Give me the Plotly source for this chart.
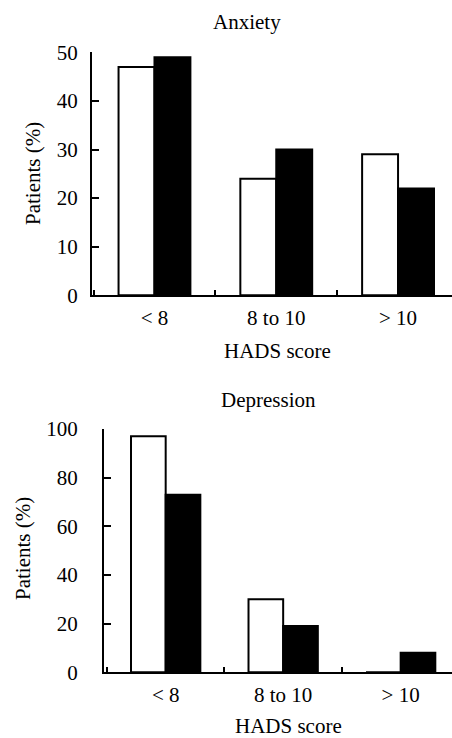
import plotly.graph_objects as go

categories = ["< 8", "8 to 10", "> 10"]
anxiety_white = [47, 24, 29]
anxiety_black = [49, 30, 22]
depression_white = [97, 30, 0]
depression_black = [73, 19, 8]
anxiety_ticks = [0, 10, 20, 30, 40, 50]
depression_ticks = [0, 20, 40, 60, 80, 100]

W, H = 452, 738
FONT = "Liberation Serif"

fig = go.Figure()
line = dict(color="black", width=2)
fig.add_bar(x=categories, y=anxiety_white, marker=dict(color="white", line=line),
            xaxis="x", yaxis="y", showlegend=False)
fig.add_bar(x=categories, y=anxiety_black, marker=dict(color="black", line=line),
            xaxis="x", yaxis="y", showlegend=False)
fig.add_bar(x=categories, y=depression_white, marker=dict(color="white", line=line),
            xaxis="x2", yaxis="y2", showlegend=False)
fig.add_bar(x=categories, y=depression_black, marker=dict(color="black", line=line),
            xaxis="x2", yaxis="y2", showlegend=False)

def px_x(p):
    return p / W

def px_y(p):
    return (H - p) / H

xcommon = dict(type="category", showline=True, linecolor="black", linewidth=2,
               ticks="inside", tickson="boundaries", ticklen=5, tickwidth=2, tickcolor="black",
               showgrid=False, zeroline=False, automargin=False, ticklabelstandoff=2,
               tickfont=dict(family=FONT, size=21, color="black"))
ycommon = dict(showline=True, linecolor="black", linewidth=2, ticks="inside", ticklen=7,
               tickwidth=2, tickcolor="black", showgrid=False, zeroline=False, automargin=False,
               tickfont=dict(family=FONT, size=21, color="black"))

fig.update_layout(
    template="none",
    width=W, height=H, autosize=False,
    margin=dict(l=0, r=0, t=0, b=0),
    paper_bgcolor="white", plot_bgcolor="white",
    barmode="group", bargap=0.41, bargroupgap=0,
    xaxis=dict(xcommon, domain=[px_x(92), 1], range=[-0.513, 2.443], anchor="y"),
    yaxis=dict(ycommon, domain=[px_y(295.3), px_y(52.3)], range=[0, 50],
               tickvals=anxiety_ticks, anchor="x", ticklabelstandoff=8),
    xaxis2=dict(xcommon, domain=[px_x(104), 1], range=[-0.525, 2.437], anchor="y2"),
    yaxis2=dict(ycommon, domain=[px_y(672.3), px_y(429)], range=[0, 100],
                tickvals=depression_ticks, anchor="x2", ticklabelstandoff=20),
)

ann_font = dict(family=FONT, size=21, color="black")
annots = [
    ("Anxiety", 247, 22, 0),
    ("HADS score", 277, 351, 0),
    ("Patients (%)", 33, 174, -90),
    ("Depression", 268, 400, 0),
    ("HADS score", 288, 726, 0),
    ("Patients (%)", 23, 549, -90),
]
for text, x, y, ang in annots:
    fig.add_annotation(text=text, x=px_x(x), y=px_y(y), xref="paper", yref="paper",
                       showarrow=False, textangle=ang, font=ann_font,
                       xanchor="center", yanchor="middle")

fig.write_html("out.html", config={"displayModeBar": False},
               post_script="document.body.style.margin='0';document.body.style.overflow='hidden';")
